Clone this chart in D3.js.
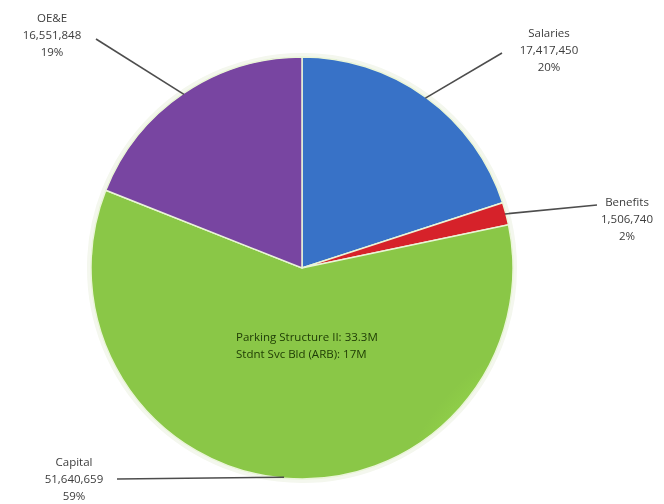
<!DOCTYPE html>
<html>
<head>
<meta charset="utf-8">
<script src="https://cdn.jsdelivr.net/npm/d3@7"></script>
<style>
  html, body { margin: 0; padding: 0; background: #ffffff; }
  svg { display: block; }
  text { font-family: "Open Sans", "Liberation Sans", sans-serif; }
</style>
</head>
<body>
<svg id="chart" width="664" height="504"></svg>
<script>
// ---- data ----
const categories = ["Salaries", "Benefits", "Capital", "OE&E"];
const values = [17417450, 1506740, 51640659, 16551848];
const valueLabels = ["17,417,450", "1,506,740", "51,640,659", "16,551,848"];
const pctLabels = ["20%", "2%", "59%", "19%"];
const sliceColors = ["#3a78d2", "#e2262c", "#92d24a", "#7f48aa"];
const innerNote = ["Parking Structure II: 33.3M", "Stdnt Svc Bld (ARB): 17M"];

// ---- layout ----
const cx = 302, cy = 268, R = 211;
const labelLayout = [
  { lx: 502, ly: 53,  tx: 549, ty: 33,  anchor: "middle" },
  { lx: 597, ly: 205, tx: 627, ty: 202, anchor: "middle" },
  { lx: 117, ly: 479, tx: 74,  ty: 462, anchor: "middle" },
  { lx: 96,  ly: 39,  tx: 52,  ty: 18,  anchor: "middle" }
];

const svg = d3.select("#chart");
const defs = svg.append("defs");

sliceColors.forEach((c, i) => {
  const g = defs.append("radialGradient")
    .attr("id", "grad" + i)
    .attr("gradientUnits", "userSpaceOnUse")
    .attr("cx", cx).attr("cy", cy).attr("r", R);
  const col = d3.color(c);
  g.append("stop").attr("offset", "0%").attr("stop-color", col.brighter(0.25));
  g.append("stop").attr("offset", "85%").attr("stop-color", c);
  g.append("stop").attr("offset", "100%").attr("stop-color", col.darker(0.15));
});

const blur = defs.append("filter").attr("id", "soft")
  .attr("x", "-10%").attr("y", "-10%").attr("width", "120%").attr("height", "120%");
blur.append("feGaussianBlur").attr("stdDeviation", 0.7);

const txtBlur = defs.append("filter").attr("id", "tsoft");
txtBlur.append("feGaussianBlur").attr("stdDeviation", 0.35);

const pie = d3.pie().sort(null).value(d => d);
const arcs = pie(values);
const arc = d3.arc().innerRadius(0).outerRadius(R);

const g = svg.append("g").attr("transform", `translate(${cx},${cy})`);

g.append("circle").attr("r", R + 2).attr("fill", "none")
  .attr("stroke", "#f4f7ee").attr("stroke-width", 4);

g.selectAll("path.slice")
  .data(arcs)
  .join("path")
  .attr("class", "slice")
  .attr("d", arc)
  .attr("fill", (d, i) => `url(#grad${i})`)
  .attr("stroke", "#eaf5d8")
  .attr("stroke-width", 1.5)
  .attr("filter", "url(#soft)");

const rimArc = d3.arc().innerRadius(R - 1).outerRadius(R - 1);
arcs.forEach((d, i) => {
  const [px, py] = rimArc.centroid(d);
  const L = labelLayout[i];
  svg.append("line")
    .attr("x1", cx + px).attr("y1", cy + py)
    .attr("x2", L.lx).attr("y2", L.ly)
    .attr("stroke", "#4d4d4d")
    .attr("stroke-width", 1.6);
});

arcs.forEach((d, i) => {
  const L = labelLayout[i];
  const t = svg.append("text")
    .attr("x", L.tx).attr("y", L.ty)
    .attr("text-anchor", L.anchor)
    .attr("font-size", 11.5)
    .attr("fill", "#3c3c3c")
    .attr("filter", "url(#tsoft)");
  [categories[i], valueLabels[i], pctLabels[i]].forEach((s, k) => {
    t.append("tspan").attr("x", L.tx).attr("dy", k === 0 ? "0.35em" : 17).text(s);
  });
});

const note = svg.append("text")
  .attr("x", 236).attr("y", 337)
  .attr("font-size", 11.5)
  .attr("fill", "#1d3a08")
  .attr("filter", "url(#tsoft)");
innerNote.forEach((s, k) => {
  note.append("tspan").attr("x", 236).attr("dy", k === 0 ? "0.35em" : 17).text(s);
});
</script>
</body>
</html>
